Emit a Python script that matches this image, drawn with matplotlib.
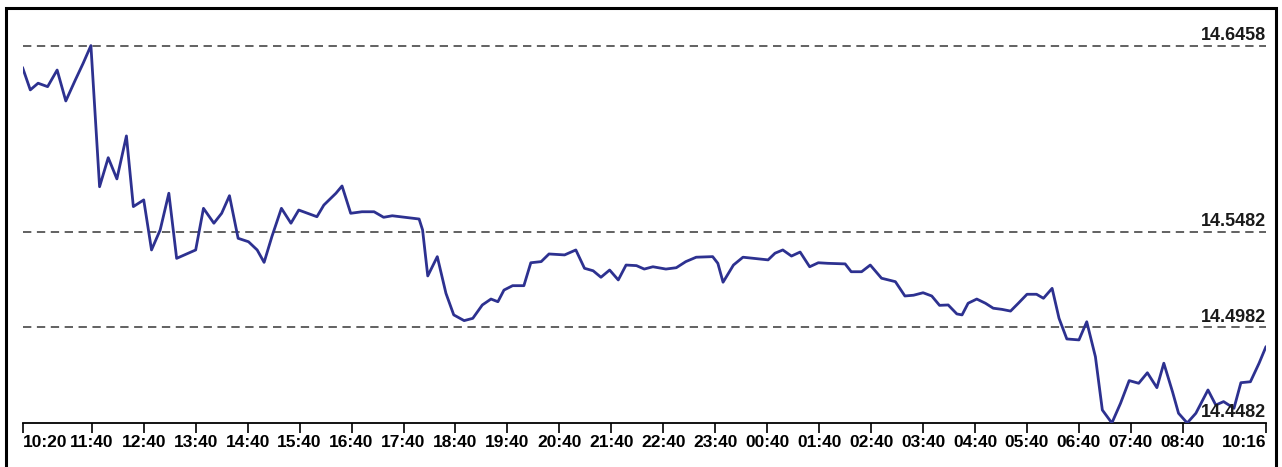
"""Price line over one day with dashed reference levels."""

import matplotlib

matplotlib.use("Agg")
import matplotlib.pyplot as plt
import pandas as pd
from matplotlib.patches import Rectangle

plt.rcParams.update(
    {
        "font.family": ["Liberation Sans", "DejaVu Sans"],
        "font.weight": "bold",
        "lines.scale_dashes": False,
    }
)

START = "2024-01-01 10:20"

# minutes after 10:20 and the value read at that moment
minutes = [
    0, 9, 18, 29, 40, 50, 61, 70, 79, 84, 89, 99, 109, 120, 128, 140, 149, 159,
    169, 178, 200, 209, 221, 230, 239, 249, 261, 271, 279, 288, 299, 310, 319,
    340, 348, 362, 369, 379, 392, 406, 417, 427, 458, 462, 468, 479, 489, 498,
    510, 520, 531, 541, 549, 556, 566, 579, 587, 599, 608, 626, 639, 649, 659,
    668, 678, 688, 697, 709, 718, 728, 743, 755, 766, 778, 797, 803, 809, 821,
    832, 855, 861, 869, 878, 888, 898, 909, 919, 930, 950, 957, 969, 979, 992,
    1008, 1019, 1029, 1040, 1050, 1059, 1069, 1079, 1085, 1092, 1102, 1112,
    1121, 1131, 1141, 1150, 1160, 1171, 1179, 1189, 1197, 1206, 1220, 1229,
    1239, 1247, 1258, 1268, 1278, 1289, 1299, 1310, 1318, 1328, 1335, 1345,
    1355, 1369, 1378, 1387, 1399, 1407, 1418, 1428, 1436,
]
values = [
    14.6344, 14.6226, 14.6261, 14.6243, 14.6330, 14.6168, 14.6278, 14.6365,
    14.6458, 14.6086, 14.5719, 14.5871, 14.5760, 14.5985, 14.5615, 14.5650,
    14.5388, 14.5493, 14.5685, 14.5344, 14.5388, 14.5606, 14.5528, 14.5580,
    14.5672, 14.5449, 14.5431, 14.5388, 14.5323, 14.5458, 14.5606, 14.5528,
    14.5597, 14.5562, 14.5623, 14.5685, 14.5723, 14.5580, 14.5588, 14.5588,
    14.5559, 14.5567, 14.5550, 14.5493, 14.5252, 14.5353, 14.5161, 14.5048,
    14.5018, 14.5030, 14.5100, 14.5131, 14.5117, 14.5178, 14.5201, 14.5201,
    14.5321, 14.5327, 14.5367, 14.5362, 14.5388, 14.5292, 14.5279, 14.5245,
    14.5283, 14.5231, 14.5309, 14.5306, 14.5288, 14.5300, 14.5288, 14.5295,
    14.5327, 14.5350, 14.5353, 14.5318, 14.5219, 14.5309, 14.5350, 14.5339,
    14.5336, 14.5371, 14.5388, 14.5356, 14.5377, 14.5300, 14.5321, 14.5318,
    14.5315, 14.5274, 14.5274, 14.5309, 14.5240, 14.5222, 14.5147, 14.5151,
    14.5164, 14.5147, 14.5098, 14.5100, 14.5053, 14.5048, 14.5109, 14.5131,
    14.5109, 14.5083, 14.5077, 14.5068, 14.5109, 14.5156, 14.5156, 14.5135,
    14.5187, 14.5030, 14.4922, 14.4917, 14.5012, 14.4829, 14.4550, 14.4482,
    14.4585, 14.4704, 14.4690, 14.4745, 14.4667, 14.4795, 14.4646, 14.4533,
    14.4482, 14.4533, 14.4655, 14.4576, 14.4594, 14.4559, 14.4693, 14.4698,
    14.4795, 14.4882,
]

levels = [14.6458, 14.5482, 14.4982, 14.4482]
level_labels = ["14.6458", "14.5482", "14.4982", "14.4482"]

tick_minutes = [0] + list(range(80, 1341, 60)) + [1436]

LINE_COLOR = "#2d3190"
W, H = 1282, 467


def main():
    fig = plt.figure(figsize=(W / 100, H / 100), dpi=100)
    left, right, bottom, top = 22.5, 1266, 423, 10
    ax = fig.add_axes(
        [left / W, (H - bottom) / H, (right - left) / W, (bottom - top) / H]
    )

    # frame round the whole picture (bottom edge runs off the image)
    fig.add_artist(
        Rectangle(
            (5.5 / W, -0.02), (1276 - 5.5) / W, (H - 8) / H + 0.02,
            transform=fig.transFigure, fill=False, lw=2.2, ec="black",
        )
    )

    ax.plot(minutes, values, color=LINE_COLOR, lw=2.0,
            solid_joinstyle="round", solid_capstyle="round", zorder=3)

    for lvl, lab in zip(levels, level_labels):
        if lvl != levels[-1]:
            ax.axhline(lvl, color="#555555", lw=1.3, linestyle=(0, (6, 4)),
                       zorder=1)
        ax.text(tick_minutes[-1], lvl + 0.0010, lab, ha="right", va="bottom",
                fontsize=13, fontweight="bold", color="#1a1a1a", zorder=4)

    ax.set_xlim(0, tick_minutes[-1])
    ax.set_ylim(levels[-1], levels[-1] + (bottom - top) / 1910)

    start = pd.Timestamp(START)
    labels = (start + pd.to_timedelta(tick_minutes, unit="min")).strftime("%H:%M")
    ax.set_xticks(tick_minutes)
    ax.set_xticklabels(labels, fontsize=12.5, fontweight="bold")
    tl = ax.get_xticklabels()
    tl[0].set_horizontalalignment("left")
    tl[-1].set_horizontalalignment("right")
    ax.tick_params(axis="x", direction="out", length=7, width=1.2, pad=1.5,
                   colors="black")
    ax.set_yticks([])

    for side in ("left", "right", "top"):
        ax.spines[side].set_visible(False)
    ax.spines["bottom"].set_linewidth(1.3)
    ax.patch.set_alpha(0)

    fig.savefig("out.png", dpi=100)


if __name__ == "__main__":
    main()
